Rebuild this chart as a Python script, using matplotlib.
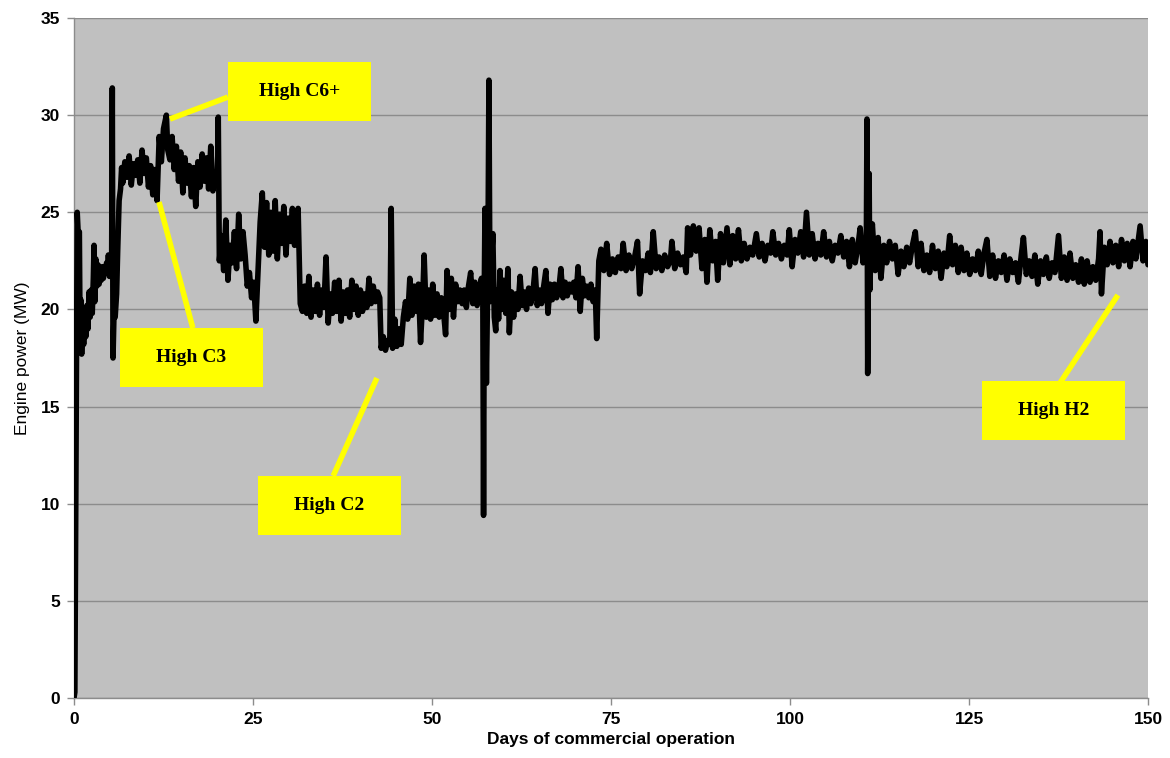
import numpy as np
import matplotlib
matplotlib.use("Agg")
import matplotlib.pyplot as plt
from matplotlib.patches import Rectangle

# Engine power log, days of commercial operation vs. MW, split by operating phase
days_startup = [0.0, 0.12, 0.45, 0.6, 0.75, 0.85, 0.95, 1.07, 1.2, 1.35, 1.5, 1.65, 1.8, 1.95,
                2.1, 2.25, 2.4, 2.55, 2.7, 2.8, 2.9, 3.05, 3.2, 3.35, 3.5, 3.65, 3.8, 3.95,
                4.1, 4.25, 4.4, 4.55, 4.7, 4.8, 4.95, 5.1, 5.25, 5.35, 5.45, 5.6, 5.75,
                5.95, 6.1, 6.3, 6.5, 6.65]
power_startup = [0.0, 0.3, 25.0, 23.8, 24.0, 18.5, 20.5, 17.7, 19.5, 18.2, 19.8, 18.6, 20.2, 19.0,
                 20.9, 19.6, 21.0, 19.8, 21.6, 23.3, 20.4, 22.6, 21.2, 22.3, 21.3, 22.0, 21.5, 22.2,
                 21.6, 22.1, 21.9, 22.4, 22.0, 22.8, 21.7, 22.3, 21.8, 31.4, 17.5, 20.0, 19.6,
                 20.8, 23.0, 25.6, 26.2, 27.3]

days_c3_c6 = [6.8, 7.1, 7.4, 7.7, 8.0, 8.3, 8.6, 8.9, 9.2, 9.5, 9.8, 10.1, 10.4, 10.7, 11.0,
              11.3, 11.6, 11.9, 12.2, 12.5, 12.9, 13.1, 13.4, 13.7, 14.0, 14.3, 14.6, 14.9,
              15.2, 15.5, 15.8, 16.1, 16.4, 16.7, 17.0, 17.3, 17.6, 17.9, 18.2, 18.5, 18.8,
              19.1, 19.4, 19.7, 20.0, 20.15]
power_c3_c6 = [26.5, 27.6, 26.8, 27.9, 26.4, 27.5, 26.9, 27.7, 26.5, 28.2, 27.0, 27.8, 26.3, 27.4, 25.9,
               27.2, 25.6, 28.9, 27.6, 29.3, 30.0, 28.2, 27.7, 28.9, 27.2, 28.4, 26.6, 28.1,
               26.0, 27.8, 26.5, 27.4, 25.8, 27.3, 25.3, 27.6, 26.3, 28.0, 26.6, 27.8, 26.2,
               28.4, 26.1, 27.0, 26.4, 29.9]

days_mid = [20.3, 20.6, 20.9, 21.2, 21.5, 21.8, 22.1, 22.4, 22.7, 23.0, 23.3, 23.6, 23.9, 24.2,
            24.5, 24.8, 25.1, 25.4, 25.7, 26.0, 26.3, 26.6, 26.9, 27.2, 27.5, 27.8, 28.1, 28.4,
            28.7, 29.0, 29.3, 29.6, 29.9, 30.2, 30.5, 30.8, 31.1, 31.3]
power_mid = [22.5, 23.8, 22.0, 24.6, 21.5, 23.3, 22.4, 24.0, 22.1, 24.9, 22.6, 24.0, 22.8, 21.2,
             21.9, 20.6, 21.4, 19.4, 22.0, 24.5, 26.0, 23.2, 25.5, 22.8, 25.0, 23.0, 25.6, 22.6,
             24.9, 23.4, 25.3, 22.8, 24.7, 23.5, 25.2, 23.3, 24.2, 25.2]

days_c2 = [31.6, 31.9, 32.2, 32.5, 32.8, 33.1, 33.4, 33.7, 34.0, 34.3, 34.6, 34.9, 35.2, 35.5,
           35.8, 36.1, 36.4, 36.7, 37.0, 37.3, 37.6, 37.9, 38.2, 38.5, 38.8, 39.1, 39.4, 39.7,
           40.0, 40.3, 40.6, 40.9, 41.2, 41.5, 41.8, 42.1, 42.4, 42.7,
           42.9, 43.2, 43.5, 43.8, 44.1, 44.3, 44.5, 44.8, 45.1, 45.4, 45.7, 46.0]
power_c2 = [20.3, 19.9, 21.2, 19.8, 21.7, 19.6, 21.0, 19.9, 21.3, 19.7, 21.0, 20.1, 22.7, 19.3,
            20.8, 19.8, 21.4, 19.9, 21.5, 19.4, 20.9, 19.8, 21.0, 19.6, 21.5, 20.0, 21.2, 19.7,
            21.0, 19.9, 20.8, 20.1, 21.6, 20.3, 21.2, 20.4, 20.9, 20.6,
            18.0, 18.6, 17.9, 18.4, 18.2, 25.2, 18.0, 19.5, 18.1, 19.0, 18.2, 19.6]

days_low = [46.3, 46.6, 46.9, 47.2, 47.5, 47.8, 48.1, 48.4, 48.7, 48.9, 49.2, 49.5, 49.8, 50.1,
            50.4, 50.7, 51.0, 51.3, 51.6, 51.9, 52.1, 52.4, 52.7, 53.0, 53.3, 53.6, 53.9, 54.2,
            54.5, 54.8, 55.1, 55.4, 55.7, 56.0, 56.3, 56.6,
            56.9, 57.1, 57.2, 57.3, 57.4, 57.5, 57.6, 57.8, 57.95, 58.1, 58.3, 58.5, 58.7,
            58.9, 59.1, 59.3, 59.5]
power_low = [20.4, 19.5, 21.6, 19.7, 21.2, 19.9, 21.3, 18.3, 20.5, 22.8, 19.6, 21.0, 19.5, 21.3,
             19.7, 20.8, 19.6, 20.6, 19.9, 18.7, 22.0, 20.0, 21.6, 19.6, 21.3, 20.4, 21.0, 20.3,
             21.0, 20.1, 21.2, 21.9, 20.3, 21.4, 20.2, 20.9,
             21.6, 20.5, 9.4, 21.0, 25.2, 20.0, 16.2, 22.0, 31.8, 20.4, 22.5, 23.9, 19.6,
             18.9, 21.0, 19.5, 22.0]

days_recover = [59.7, 60.0, 60.3, 60.6, 60.8, 61.1, 61.4, 61.7, 62.0, 62.3, 62.6, 62.9, 63.2,
                63.5, 63.8, 64.1, 64.4, 64.7, 65.0, 65.3, 65.6, 65.9, 66.2, 66.5, 66.8, 67.1,
                67.4, 67.7, 68.0, 68.3, 68.6, 68.9, 69.2, 69.5, 69.8, 70.1, 70.4, 70.7, 71.0,
                71.3, 71.6, 71.9, 72.2, 72.5, 72.8, 73.0]
power_recover = [20.0, 21.5, 19.8, 22.1, 18.8, 20.9, 19.6, 20.8, 20.0, 21.7, 20.2, 20.9, 20.0,
                 21.1, 20.3, 20.9, 22.1, 20.2, 21.0, 20.3, 21.2, 22.0, 19.8, 21.3, 20.5, 21.3,
                 20.6, 21.0, 22.1, 20.6, 21.4, 20.7, 21.3, 20.9, 21.4, 20.6, 22.2, 19.9, 21.6,
                 20.7, 21.2, 20.6, 21.3, 20.4, 21.0, 18.5]

days_steady = [73.3, 73.6, 74.0, 74.4, 74.8, 75.2, 75.6, 76.0, 76.4, 76.7, 77.1, 77.5, 77.9, 78.3,
               78.7, 79.0, 79.4, 79.8, 80.2, 80.5, 80.9, 81.3, 81.7, 82.1, 82.5, 82.9, 83.3, 83.5,
               83.9, 84.3, 84.7, 85.1, 85.5, 85.7, 86.1, 86.5, 86.9, 87.3, 87.7, 88.1, 88.4, 88.8,
               89.2, 89.6, 89.9, 90.3, 90.7, 91.2, 91.6, 92.0, 92.4, 92.8, 93.2, 93.6, 94.0, 94.4,
               94.8, 95.3, 95.7, 96.1, 96.5, 96.9, 97.3, 97.6, 98.0, 98.4, 98.8, 99.2, 99.6, 99.9,
               100.3, 100.7, 101.1, 101.5, 101.9, 102.3, 102.7, 103.1, 103.5, 103.9, 104.3, 104.7,
               105.1, 105.5, 105.9, 106.3, 106.7, 107.1, 107.5, 107.9, 108.3, 108.7, 109.1, 109.5,
               109.8, 110.2, 110.5,
               110.65, 110.75, 110.85, 110.95, 111.05, 111.15, 111.3]
power_steady = [22.5, 23.1, 22.0, 23.4, 21.8, 22.6, 21.9, 22.7, 22.1, 23.4, 22.0, 22.8, 22.1, 22.7,
                23.5, 20.8, 22.5, 22.0, 22.9, 21.9, 24.0, 22.1, 22.7, 22.0, 22.8, 22.2, 22.5, 23.5,
                22.1, 22.9, 22.3, 22.7, 21.9, 24.2, 22.8, 24.3, 23.0, 24.2, 22.1, 23.6, 21.4, 24.1,
                22.5, 23.5, 21.5, 23.9, 22.4, 24.2, 22.3, 23.8, 22.6, 24.1, 22.5, 23.4, 22.6, 23.2,
                22.8, 23.9, 22.7, 23.4, 22.5, 23.3, 22.9, 24.0, 22.8, 23.4, 22.6, 23.3, 22.8, 24.1,
                22.2, 23.6, 22.9, 24.0, 22.7, 25.0, 22.8, 23.9, 22.6, 23.4, 22.8, 24.0,
                22.7, 23.5, 22.5, 23.3, 22.9, 23.8, 22.7, 23.5, 22.2, 23.6, 22.4, 23.3,
                24.2, 22.4, 23.5,
                22.5, 29.8, 16.7, 22.8, 27.0, 21.0, 23.0]

days_h2 = [111.5, 111.9, 112.3, 112.7, 113.1, 113.5, 113.9, 114.3, 114.7, 115.1, 115.5, 115.9,
           116.3, 116.7, 117.1, 117.5, 117.9, 118.3, 118.7, 119.1, 119.5, 119.9, 120.3, 120.7,
           121.1, 121.5, 121.9, 122.3, 122.7, 123.1, 123.5, 123.9, 124.3, 124.7, 125.1, 125.5,
           125.9, 126.3, 126.7, 127.1, 127.5, 127.9, 128.3, 128.7, 129.1, 129.5, 129.9, 130.3,
           130.7, 131.1, 131.5, 131.9, 132.3, 132.6, 133.0, 133.4, 133.8, 134.2, 134.6, 135.0,
           135.4, 135.8, 136.2, 136.6, 137.0, 137.5, 137.9, 138.3, 138.7, 139.1, 139.5, 139.9,
           140.3, 140.7, 141.1, 141.5, 141.9, 142.3, 142.7, 143.1, 143.3, 143.5, 143.9, 144.3,
           144.7, 145.1, 145.5, 145.9, 146.3, 146.7, 147.1, 147.5, 147.9, 148.3, 148.9, 149.3,
           149.7, 150.0]
power_h2 = [24.4, 22.0, 23.7, 21.6, 23.3, 22.4, 23.5, 22.6, 23.3, 21.8, 23.0, 22.2,
            23.2, 22.4, 23.3, 24.0, 22.2, 23.4, 22.0, 22.8, 21.9, 23.3, 22.1, 23.0,
            21.6, 22.9, 22.2, 23.8, 22.3, 23.3, 21.9, 23.2, 22.0, 22.9, 21.8, 22.6,
            22.0, 23.0, 21.8, 22.9, 23.6, 21.7, 22.8, 21.6, 22.5, 21.9, 22.8, 21.5,
            22.6, 21.9, 22.4, 21.4, 22.8, 23.7, 21.8, 22.5, 21.7, 22.8, 21.3, 22.5,
            21.8, 22.7, 21.6, 22.4, 21.9, 23.8, 21.6, 22.7, 21.5, 22.9, 21.6, 22.3,
            21.4, 22.6, 21.3, 22.5, 21.4, 22.2, 21.5, 22.6, 24.0, 20.8, 23.2, 22.3,
            23.5, 22.4, 23.3, 22.2, 23.6, 22.5, 23.4, 22.2, 23.5, 22.6, 24.3, 22.5,
            23.5, 22.3]

days = np.concatenate([days_startup, days_c3_c6, days_mid, days_c2, days_low,
                       days_recover, days_steady, days_h2])
power = np.concatenate([power_startup, power_c3_c6, power_mid, power_c2, power_low,
                        power_recover, power_steady, power_h2])

# Gas-composition call-outs: label, box (x0, x1, y0, y1) and leader line ends
callout_labels = ["High C6+", "High C3", "High C2", "High H2"]
callout_boxes = [(21.5, 41.5, 29.7, 32.73), (6.42, 26.4, 16.01, 19.04),
                 (25.7, 45.67, 8.39, 11.43), (126.8, 146.8, 13.28, 16.32)]
callout_leaders = [((13.4, 29.8), (21.5, 30.93)), ((11.87, 25.53), (16.6, 19.04)),
                   ((42.3, 16.47), (36.2, 11.43)), ((145.8, 20.74), (137.7, 16.21))]

fig = plt.figure(figsize=(11.7, 7.58), dpi=100)
ax = fig.add_axes([74 / 1170, 60 / 758, (1148 - 74) / 1170, (698 - 18) / 758])
ax.set_facecolor("#C0C0C0")

ax.plot(days, power, color="black", lw=4.0, solid_joinstyle="round",
        solid_capstyle="round", zorder=3)

ax.set_xlim(0, 150)
ax.set_ylim(0, 35)
ax.set_xticks(np.arange(0, 151, 25))
ax.set_yticks(np.arange(0, 36, 5))
ax.yaxis.grid(True, color="#8C8C8C", lw=1.0)
ax.set_axisbelow(True)

for side in ("top", "right"):
    ax.spines[side].set_visible(False)
for side in ("left", "bottom"):
    ax.spines[side].set_color("#8C8C8C")
    ax.spines[side].set_linewidth(1.0)
ax.tick_params(axis="both", direction="out", length=5, color="#8C8C8C", width=1,
               labelsize=12.5, pad=5)
for lab in ax.get_xticklabels() + ax.get_yticklabels():
    lab.set_fontweight("bold")
    lab.set_family("Liberation Sans")

ax.set_xlabel("Days of commercial operation", fontsize=12.5, fontweight="bold",
              family="Liberation Sans", labelpad=4)
ax.set_ylabel("Engine power (MW)", fontsize=12.5, family="Liberation Sans", labelpad=8)

for label, (x0, x1, y0, y1), (p0, p1) in zip(callout_labels, callout_boxes, callout_leaders):
    ax.plot([p0[0], p1[0]], [p0[1], p1[1]], color="#FFFF00", lw=4, zorder=4,
            solid_capstyle="butt")
    ax.add_patch(Rectangle((x0, y0), x1 - x0, y1 - y0, facecolor="#FFFF00",
                           edgecolor="none", zorder=5))
    ax.text((x0 + x1) / 2, (y0 + y1) / 2, label, ha="center", va="center",
            fontsize=14, fontweight="bold", family="Liberation Serif", zorder=6)

fig.savefig("out.png", dpi=100)
